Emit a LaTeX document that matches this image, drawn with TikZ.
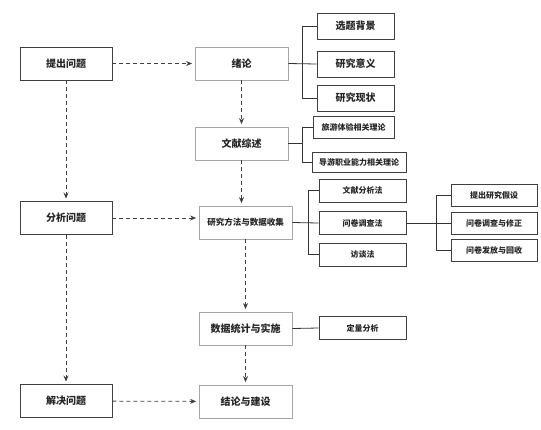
\documentclass[tikz,border=0pt]{standalone}
\usepackage{fontspec}
\newfontfamily\cjk{Noto Sans CJK SC}
\usetikzlibrary{arrows.meta}

\begin{document}
\begin{tikzpicture}[x=1pt,y=-1pt,
stage/.style={draw=black!75,line width=0.9pt,
  minimum width=92pt,minimum height=33pt,inner sep=0pt,
  text=black!85,node font=\cjk\bfseries\fontsize{10}{12}\selectfont
},
step box/.style={stage,draw=black!35,line width=0.8pt,minimum width=93pt},
item/.style={draw=black!75,line width=0.9pt,
  minimum width=77pt,minimum height=26pt,inner sep=0pt,
  text=black!85,node font=\cjk\bfseries\fontsize{10}{12}\selectfont
},
small item/.style={item,minimum height=22pt,
  node font=\cjk\bfseries\fontsize{8}{10}\selectfont
},
flow/.style={black!75,line width=0.8pt,dash pattern=on 4pt off 3pt,
  -{Stealth[length=6pt,width=5pt]},shorten >=2.5pt},
link/.style={black!80,line width=0.8pt}
]
\useasboundingbox (0,0) rectangle (541,429);

% left column
\node (tcwt) [stage] at (66,63.5) {提出问题};
\node (fxwt) [stage] at (66,218) {分析问题};
\node (jjwt) [stage] at (66,401) {解决问题};

% middle column
\node (xl) [step box] at (241.5,63.5) {绪论};
\node (wxzs) [step box] at (241.5,143.5) {文献综述};
\node (yjff) [step box,node font=\cjk\bfseries\fontsize{8.5}{10}\selectfont] at (245.5,222.5) {研究方法与数据收集};
\node (sjtj) [step box] at (245.5,328.5) {数据统计与实施};
\node (jljs) [step box] at (245.5,401.5) {结论与建设};

% right items
\node (xtbj) [item] at (355.5,26) {选题背景};
\node (yjyy) [item] at (355.5,64) {研究意义};
\node (yjxz) [item] at (355.5,98) {研究现状};
\node (lytl) [small item,minimum width=81pt] at (353.5,127) {旅游体验相关理论};
\node (dyzy) [small item,minimum width=94pt,minimum height=20pt] at (359,162.5) {导游职业能力相关理论};
\node (wxfx) [small item,minimum width=87pt,minimum height=23pt] at (362.5,190.5) {文献分析法};
\node (wjdc) [small item,minimum width=87pt,minimum height=23pt] at (362.5,223) {问卷调查法};
\node (ftf) [small item,minimum width=87pt,minimum height=23pt] at (362.5,254.5) {访谈法};
\node (dlfx) [small item,minimum width=87pt,minimum height=23pt] at (362.5,328) {定量分析};
\node (tcjs) [small item,minimum width=86pt] at (494,195) {提出研究假设};
\node (wjxz) [small item,minimum width=86pt] at (494,223) {问卷调查与修正};
\node (wjff) [small item,minimum width=86pt] at (494,250) {问卷发放与回收};

% flow
\draw [flow] (tcwt) -- (xl);
\draw [flow] (tcwt) -- (fxwt);
\draw [flow] (fxwt) -- (jjwt);
\draw [flow] (fxwt.east) -- (fxwt.east -| yjff.west);
\draw [flow] (jjwt) -- (jljs);
\draw [flow] (xl) -- (wxzs);
\draw [flow] (wxzs.south) -- (wxzs.south |- yjff.north);
\draw [flow] (yjff) -- (sjtj);
\draw [flow] (sjtj) -- (jljs);

% brackets
\draw [link] (xl.east) -- (yjyy.west);
\draw [link] (xtbj.west) -- ++(-14,0) |- (yjxz.west);
\draw [link] (wxzs.east) -- ++(14,0) |- (lytl.west);
\draw [link] (wxzs.east) ++(14,0) |- (dyzy.west);
\draw [link] (yjff.east) -- (wjdc.west);
\draw [link] (wxfx.west) -- ++(-10,0) |- (ftf.west);
\draw [link] (wjdc.east) -- (wjxz.west);
\draw [link] (tcjs.west) -- ++(-14,0) |- (wjff.west);
\draw [link] (sjtj.east) -- (dlfx.west);

\end{tikzpicture}
\end{document}
